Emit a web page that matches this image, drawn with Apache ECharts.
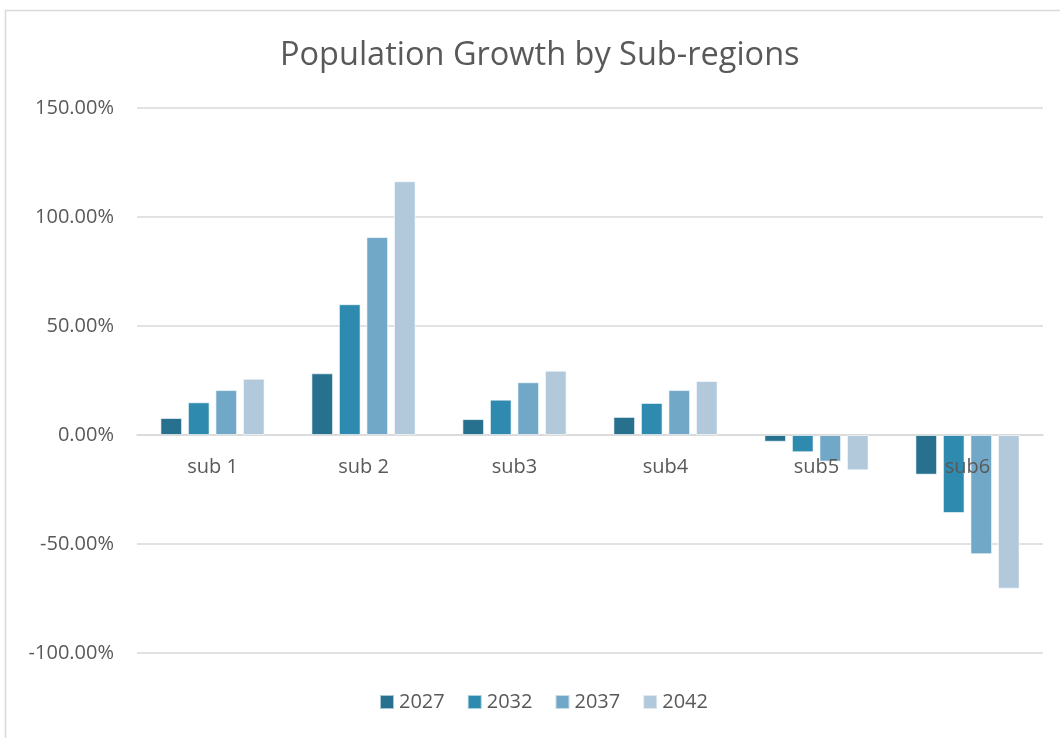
<!DOCTYPE html>
<html><head><meta charset="utf-8">
<script src="https://cdn.jsdelivr.net/npm/echarts@6/dist/echarts.min.js"></script>
<style>html,body{margin:0;padding:0;background:#fff}#c{width:1060px;height:738px}</style>
</head><body><div id="c"></div>
<script>
const categories = ['sub 1', 'sub 2', 'sub3', 'sub4', 'sub5', 'sub6'];
const seriesNames = ['2027', '2032', '2037', '2042'];
const v2027 = [0.078, 0.283, 0.073, 0.083, -0.031, -0.182];
const v2032 = [0.150, 0.600, 0.162, 0.147, -0.079, -0.358];
const v2037 = [0.206, 0.908, 0.242, 0.206, -0.122, -0.547];
const v2042 = [0.258, 1.164, 0.295, 0.248, -0.162, -0.705];
const colors = ['#27718F', '#2E8AAF', '#71A8C7', '#B2C9DC'];
const yTicks = [-1, -0.5, 0, 0.5, 1, 1.5];

const values = [v2027, v2032, v2037, v2042];
const font = 'Open Sans, Liberation Sans, sans-serif';
const chart = echarts.init(document.getElementById('c'));
chart.setOption({
  animation: false,
  color: colors,
  graphic: [{
    type: 'rect', shape: {x: 5.5, y: 10.5, width: 1200, height: 900},
    style: {fill: 'none', stroke: '#d9d9d9', lineWidth: 1.5}, silent: true, z: -1
  }],
  title: {
    text: 'Population Growth by Sub-regions', left: 275, top: 34,
    textStyle: {fontFamily: font, fontSize: 32.5, fontWeight: 'normal', color: '#595959'}
  },
  legend: {
    bottom: 21, left: 374, itemWidth: 14, itemHeight: 14, itemGap: 22,
    icon: 'rect',
    textStyle: {fontFamily: font, fontSize: 20, color: '#595959'},
    data: seriesNames
  },
  grid: {left: 137, right: 17, top: 108, bottom: 85},
  xAxis: {
    type: 'category', data: categories,
    axisLine: {onZero: true, lineStyle: {color: '#d9d9d9', width: 1.5}},
    axisTick: {show: false},
    axisLabel: {show: false}
  },
  yAxis: {
    type: 'value', min: yTicks[0], max: yTicks[yTicks.length - 1], interval: 0.5,
    axisLine: {show: false}, axisTick: {show: false},
    splitLine: {lineStyle: {color: '#d9d9d9', width: 1.5}},
    axisLabel: {
      fontFamily: font, fontSize: 20, color: '#595959', margin: 23,
      formatter: v => (v * 100).toFixed(2) + '%'
    }
  },
  series: seriesNames.map((n, i) => ({
    name: n, type: 'bar', data: values[i],
    barGap: '27%', barCategoryGap: '31%',
    itemStyle: {color: colors[i], borderColor: 'rgba(255,255,255,0.6)', borderWidth: 1}
  })).concat([{
    name: 'labels', type: 'scatter', z: 10, silent: true,
    symbolSize: 0,
    data: categories.map(c => [c, 0]),
    label: {
      show: true, position: 'bottom', distance: 22,
      formatter: p => p.data[0],
      fontFamily: font, fontSize: 20, color: '#595959', opacity: 1, textBorderWidth: 0
    }
  }])
});
</script></body></html>
